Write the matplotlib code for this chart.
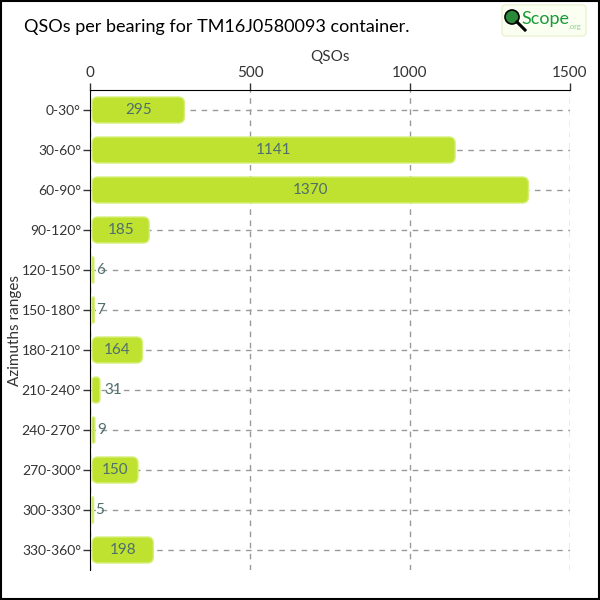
import matplotlib
matplotlib.use("Agg")
import matplotlib.pyplot as plt
from matplotlib.patches import FancyBboxPatch, Rectangle, Circle
from matplotlib.lines import Line2D

categories = ["0-30°", "30-60°", "60-90°", "90-120°", "120-150°", "150-180°",
              "180-210°", "210-240°", "240-270°", "270-300°", "300-330°", "330-360°"]
values = [295, 1141, 1370, 185, 6, 7, 164, 31, 9, 150, 5, 198]
xticks = [0, 500, 1000, 1500]

plt.rcParams['font.family'] = ['Lato', 'DejaVu Sans']

fig = plt.figure(figsize=(6, 6), dpi=100)
ax = fig.add_axes([0.15, 0.05, 0.80, 0.80])

ypos = list(range(len(categories)))
bars = ax.barh(ypos, values, height=0.65, color="#bee22f")

# replace bars by rounded patches
xpp = 1500 / 480.0
ypp = 12 / 480.0
for b in bars:
    x, y, w, h = b.get_x(), b.get_y(), b.get_width(), b.get_height()
    b.set_visible(False)
    off = 2 * xpp
    ww = max(w - off, 1.5 * xpp) if w > 3 * xpp else max(w, 1.5 * xpp)
    r = min(6 * xpp, ww / 2.0)
    p = FancyBboxPatch((x + off, y), ww, h,
                       boxstyle=f"round,pad=0,rounding_size={r}",
                       mutation_aspect=ypp / xpp,
                       facecolor="#bee22f", edgecolor="#d6ee7a", linewidth=1.0,
                       zorder=3)
    ax.add_patch(p)

for i, v in enumerate(values):
    if v > 100:
        ax.text(v / 2 + 1 * xpp, i, str(v), ha="center", va="center",
                color="#4f6e6e", fontsize=11, zorder=4)
    else:
        ax.text(v + 4 * xpp, i, str(v), ha="left", va="center",
                color="#4f6e6e", fontsize=11, zorder=4)

ax.set_xlim(0, 1500)
ax.set_ylim(len(categories) - 0.5, -0.5)
ax.set_yticks(ypos)
ax.set_yticklabels(categories)
ax.set_xticks(xticks)
ax.xaxis.tick_top()
ax.xaxis.set_label_position("top")
ax.set_xlabel("QSOs", fontsize=11, color="#333333", labelpad=4)
ax.set_ylabel("Azimuths ranges", fontsize=11, color="#333333")
ax.yaxis.set_label_coords(-0.142, 0.5)
ax.tick_params(axis="both", colors="#333333", length=5, width=1)
ax.tick_params(axis="x", labelsize=11, pad=2)
ax.tick_params(axis="y", labelsize=10, pad=1.5)

ax.grid(True, linestyle=(0, (4, 4)), color="#999999", linewidth=1)
ax.set_axisbelow(True)
for s in ["right", "bottom"]:
    ax.spines[s].set_visible(False)
ax.spines["top"].set_color("black")
ax.spines["left"].set_color("black")

fig.text(0.04, 0.955, "QSOs per bearing for TM16J0580093 container.",
         fontsize=13, color="black", ha="left", va="center")

# logo (pixel-based placement in figure coords)
def fx(px):
    return px / 600.0

def fy(py):
    return 1 - py / 600.0

fig.patches.append(FancyBboxPatch((fx(502), fy(36)), fx(84), 31 / 600.0,
                                  boxstyle="round,pad=0,rounding_size=0.006",
                                  transform=fig.transFigure, facecolor="#fbfff2",
                                  edgecolor="#e6efc8", linewidth=0.8))
fig.patches.append(Circle((fx(512), fy(17)), 7 / 600.0, transform=fig.transFigure,
                          facecolor="#2a8a3a", edgecolor="black", linewidth=1.2))
fig.lines.append(Line2D([fx(517), fx(525)], [fy(22), fy(30)], transform=fig.transFigure,
                        color="black", linewidth=2.2))
fig.text(fx(521), fy(19), "Scope", fontsize=13, color="#1a9a3a", ha="left",
         va="center")
fig.text(fx(569), fy(26), ".org", fontsize=5.5, color="#8fcf8f", ha="left", va="center")

fig.patches.append(Rectangle((0.001, 0.001), 0.997, 0.997, transform=fig.transFigure,
                             fill=False, edgecolor="black", linewidth=1.5))

fig.savefig("out.png", dpi=100)
